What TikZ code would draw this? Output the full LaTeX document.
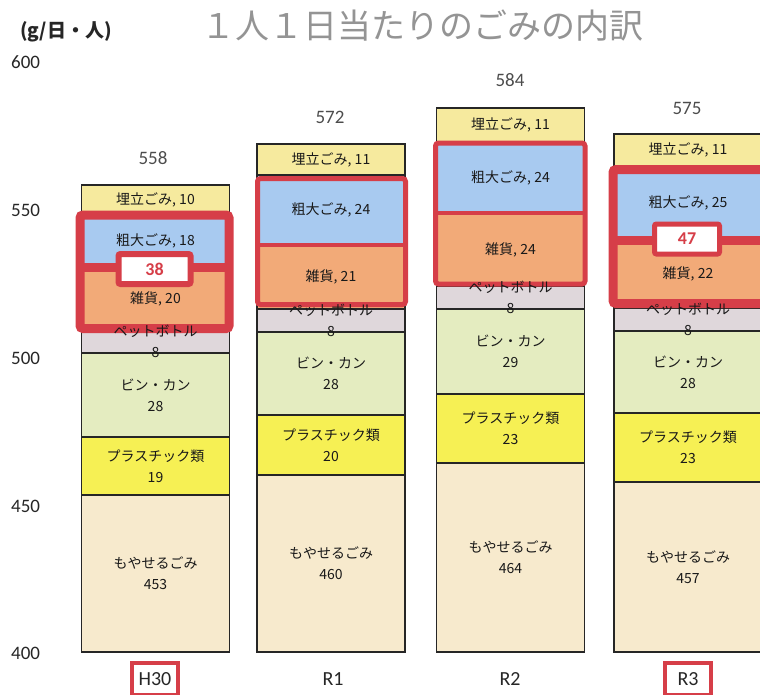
\documentclass[tikz,border=0pt]{standalone}
\usepackage{fontspec}
\usepackage{xcolor}
\usepackage{tikz}
\setmainfont{Carlito}
\newfontfamily\jpfont{Noto Sans CJK JP}
\definecolor{burncol}{RGB}{247,234,205}
\definecolor{plascol}{RGB}{246,240,84}
\definecolor{bincol}{RGB}{228,236,192}
\definecolor{petcol}{RGB}{223,215,219}
\definecolor{zakkacol}{RGB}{242,170,120}
\definecolor{sodaicol}{RGB}{168,202,240}
\definecolor{umecol}{RGB}{246,234,158}
\definecolor{markred}{RGB}{214,62,72}
\newcommand{\segfont}{\jpfont\fontsize{14}{21}\selectfont}
\tikzstyle{seg} = [rectangle, draw=black!85, line width=1.4pt, minimum width=148pt,
    inner sep=0pt, align=center, font=\segfont, text=black!90]
\tikzstyle{segtext} = [inner sep=0pt, align=center, font=\segfont, text=black!90]
\tikzstyle{axislabel} = [anchor=west, inner sep=0pt, font=\fontsize{19}{22}\selectfont, text=black!85]
\tikzstyle{total} = [inner sep=0pt, font=\fontsize{19}{22}\selectfont, text=black!70]
\tikzstyle{year} = [inner sep=0pt, minimum width=46pt, minimum height=32pt,
    font=\fontsize{20}{22}\selectfont, text=black!85]
\tikzstyle{yearmark} = [draw=markred, line width=4pt]
\tikzstyle{frame} = [draw=markred, rounded corners=3pt]
\tikzstyle{tag} = [rectangle, draw=markred, fill=white, inner sep=0pt, rounded corners=2pt,
    text=markred, font=\bfseries\fontsize{18}{20}\selectfont]

\begin{document}
\begin{tikzpicture}[x=1pt, y=-1pt]
    \useasboundingbox (0,0) rectangle (760,694);
    \clip (0,0) rectangle (760,694);

    % Title and axis
    \node [font=\jpfont\fontsize{34}{38}\selectfont, text=black!42] (title) at (422,26) {１人１日当たりのごみの内訳};
    \node [font=\jpfont\bfseries\fontsize{19}{22}\selectfont, text=black!85] (unit) at (66,32) {(g/日・人)};
    \node [axislabel] (y600) at (11,62) {600};
    \node [axislabel] (y550) at (11,210) {550};
    \node [axislabel] (y500) at (11,358) {500};
    \node [axislabel] (y450) at (11,506) {450};
    \node [axislabel] (y400) at (11,653) {400};

    % Place nodes
    \node [seg, fill=umecol, minimum height=30pt] (h30_ume) at (155.5,200) {埋立ごみ, 10};
    \node [seg, fill=sodaicol, minimum height=52pt] (h30_sodai) at (155.5,241) {粗大ごみ, 18};
    \node [seg, fill=zakkacol, minimum height=63pt] (h30_zakka) at (155.5,298.5) {雑貨, 20};
    \node [seg, fill=petcol, minimum height=23pt] (h30_pet) at (155.5,341.5) {};
    \node [seg, fill=bincol, minimum height=84pt] (h30_bin) at (155.5,395) {ビン・カン\\28};
    \node [seg, fill=plascol, minimum height=58pt] (h30_plas) at (155.5,466) {プラスチック類\\19};
    \node [seg, fill=burncol, minimum height=157pt] (h30_burn) at (155.5,573.5) {もやせるごみ\\453};

    \node [seg, fill=umecol, minimum height=31pt] (r1_ume) at (331,159.5) {埋立ごみ, 11};
    \node [seg, fill=sodaicol, minimum height=70pt] (r1_sodai) at (331,210) {粗大ごみ, 24};
    \node [seg, fill=zakkacol, minimum height=64pt] (r1_zakka) at (331,277) {雑貨, 21};
    \node [seg, fill=petcol, minimum height=23pt] (r1_pet) at (331,320.5) {};
    \node [seg, fill=bincol, minimum height=83pt] (r1_bin) at (331,373.5) {ビン・カン\\28};
    \node [seg, fill=plascol, minimum height=60pt] (r1_plas) at (331,445) {プラスチック類\\20};
    \node [seg, fill=burncol, minimum height=177pt] (r1_burn) at (331,563.5) {もやせるごみ\\460};

    \node [seg, fill=umecol, minimum height=34pt] (r2_ume) at (510.5,125) {埋立ごみ, 11};
    \node [seg, fill=sodaicol, minimum height=71pt] (r2_sodai) at (510.5,177.5) {粗大ごみ, 24};
    \node [seg, fill=zakkacol, minimum height=73pt] (r2_zakka) at (510.5,249.5) {雑貨, 24};
    \node [seg, fill=petcol, minimum height=23pt] (r2_pet) at (510.5,297.5) {};
    \node [seg, fill=bincol, minimum height=85pt] (r2_bin) at (510.5,351.5) {ビン・カン\\29};
    \node [seg, fill=plascol, minimum height=69pt] (r2_plas) at (510.5,428.5) {プラスチック類\\23};
    \node [seg, fill=burncol, minimum height=189pt] (r2_burn) at (510.5,557.5) {もやせるごみ\\464};

    \node [seg, fill=umecol, minimum height=32pt] (r3_ume) at (688,150) {埋立ごみ, 11};
    \node [seg, fill=sodaicol, minimum height=74pt] (r3_sodai) at (688,203) {粗大ごみ, 25};
    \node [seg, fill=zakkacol, minimum height=68pt] (r3_zakka) at (688,274) {雑貨, 22};
    \node [seg, fill=petcol, minimum height=23pt] (r3_pet) at (688,319.5) {};
    \node [seg, fill=bincol, minimum height=82pt] (r3_bin) at (688,372) {ビン・カン\\28};
    \node [seg, fill=plascol, minimum height=69pt] (r3_plas) at (688,447.5) {プラスチック類\\23};
    \node [seg, fill=burncol, minimum height=170pt] (r3_burn) at (688,567) {もやせるごみ\\457};

    % Totals
    \node [total] (h30_total) at (153,158) {558};
    \node [total] (r1_total) at (330,117) {572};
    \node [total] (r2_total) at (510,80) {584};
    \node [total] (r3_total) at (687,108) {575};

    % Red marks
    \path [frame, line width=9pt] (80,215) rectangle (229,328.5);
    \path [draw=markred, line width=9pt] (80,267.5) -- (229,267.5);
    \node [tag, line width=6pt, minimum width=72pt, minimum height=30pt] (h30_tag) at (154.5,269) {38};

    \path [frame, line width=5pt] (257.5,178.5) rectangle (405.5,304.5);
    \path [draw=markred, line width=4.5pt] (257.5,245) -- (405.5,245);

    \path [frame, line width=5pt] (435.5,143) rectangle (585,284);
    \path [draw=markred, line width=4.5pt] (435.5,213) -- (585,213);

    \path [frame, line width=9pt] (613,169.5) rectangle (775,303.5);
    \path [draw=markred, line width=9pt] (613,240) -- (775,240);
    \node [tag, line width=5pt, minimum width=65pt, minimum height=30pt] (r3_tag) at (687,239) {47};

    % PET labels on top
    \node [segtext] (h30_petlabel) at (h30_pet) {ペットボトル\\8};
    \node [segtext] (r1_petlabel) at (r1_pet) {ペットボトル\\8};
    \node [segtext] (r2_petlabel) at (r2_pet) {ペットボトル\\8};
    \node [segtext] (r3_petlabel) at (r3_pet) {ペットボトル\\8};

    % Years
    \node [year] (h30) at (155,679) {H30};
    \node [year] (r1) at (333,679) {R1};
    \node [year] (r2) at (510,679) {R2};
    \node [year] (r3) at (688,679) {R3};
    \path [yearmark] (h30.north west) rectangle (h30.south east);
    \path [yearmark] (r3.north west) rectangle (r3.south east);
\end{tikzpicture}
\end{document}
